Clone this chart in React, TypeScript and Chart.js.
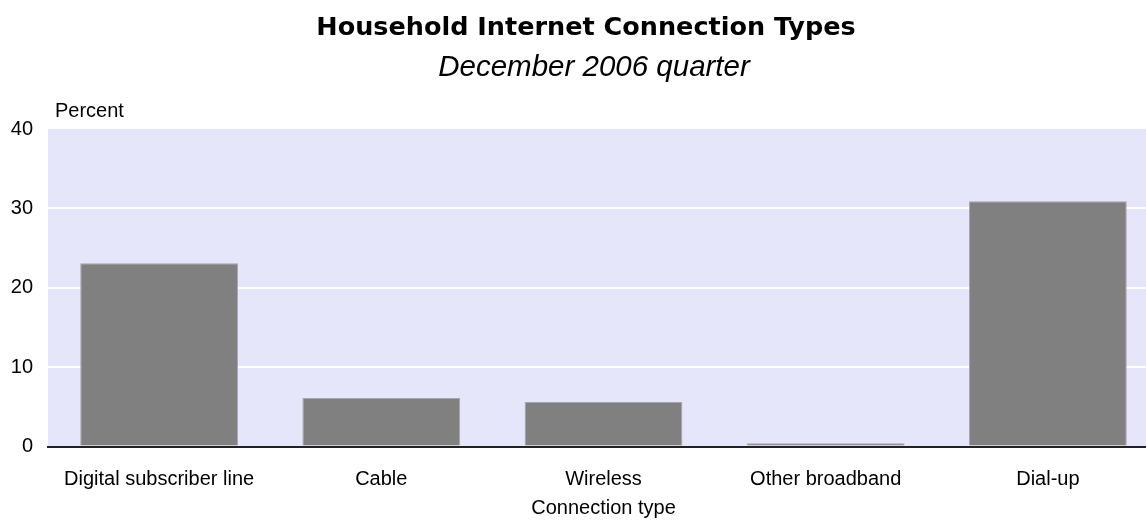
import React, { useEffect, useRef } from "react";
import { Chart, registerables } from "chart.js";

Chart.register(...registerables);

const categories = ["Digital subscriber line", "Cable", "Wireless", "Other broadband", "Dial-up"];
const percentValues = [23.1, 6.1, 5.6, 0.4, 30.9];
const yTickValues = [0, 10, 20, 30, 40];
const titleText = "Household Internet Connection Types";
const subtitleText = "December 2006 quarter";
const yAxisLabel = "Percent";
const xAxisLabel = "Connection type";

const SANS = "'Liberation Sans', Arial, sans-serif";

const plotDecor = {
  id: "plotDecor",
  beforeDraw(chart: any) {
    const { ctx, chartArea } = chart;
    ctx.save();
    ctx.fillStyle = "#E6E6FA";
    ctx.fillRect(chartArea.left, chartArea.top, chartArea.right - chartArea.left, chartArea.bottom - chartArea.top);
    ctx.restore();
  },
  afterDraw(chart: any) {
    const { ctx, chartArea } = chart;
    ctx.save();
    ctx.fillStyle = "#000";
    ctx.textBaseline = "middle";
    ctx.textAlign = "center";
    ctx.font = `bold 25.5px 'DejaVu Sans', Verdana, sans-serif`;
    ctx.fillText(titleText, 586, 28);
    ctx.font = `italic 29.5px ${SANS}`;
    ctx.fillText(subtitleText, 594, 68);
    ctx.font = `20px ${SANS}`;
    ctx.textAlign = "left";
    ctx.fillText(yAxisLabel, chartArea.left + 7, chartArea.top - 18);
    ctx.restore();
  },
};

export default function App() {
  const canvasRef = useRef<HTMLCanvasElement | null>(null);

  useEffect(() => {
    if (!canvasRef.current) return;
    const chart = new Chart(canvasRef.current, {
      type: "bar",
      data: {
        labels: categories,
        datasets: [
          {
            label: yAxisLabel,
            data: percentValues,
            backgroundColor: "#808080",
            borderColor: "#A4A4B4",
            borderWidth: 1,
            barPercentage: 0.71,
            categoryPercentage: 1,
          },
        ],
      },
      options: {
        animation: false,
        responsive: true,
        maintainAspectRatio: false,
        layout: { padding: { left: 0, right: 33, top: 129, bottom: 0 } },
        plugins: {
          legend: { display: false },
          tooltip: { enabled: false },
          title: { display: false },
          subtitle: { display: false },
        },
        scales: {
          x: {
            z: 1,
            afterFit: (scale: any) => {
              scale.height = 73.5;
            },
            grid: { display: false, drawTicks: false },
            border: { display: true, color: "#222", width: 2 },
            ticks: { color: "#000", font: { family: SANS, size: 20 }, padding: 21 },
            title: {
              display: true,
              text: xAxisLabel,
              color: "#000",
              font: { family: SANS, size: 20 },
              padding: { top: 6, bottom: 0 },
            },
          },
          y: {
            min: 0,
            max: 40,
            afterFit: (scale: any) => {
              scale.width = 48;
            },
            afterBuildTicks: (scale: any) => {
              scale.ticks = yTickValues.map((v) => ({ value: v }));
            },
            grid: {
              drawTicks: false,
              lineWidth: 2,
              color: (ctx: any) =>
                ctx.tick && ctx.tick.value > 0 && ctx.tick.value < 40 ? "#FFFFFF" : "rgba(0,0,0,0)",
            },
            border: { display: false },
            ticks: { color: "#000", font: { family: SANS, size: 20 }, padding: 15 },
          },
        },
      },
      plugins: [plotDecor],
    });
    return () => chart.destroy();
  }, []);

  return (
    <div
      style={{
        position: "absolute",
        left: 0,
        top: 0,
        width: 1146,
        height: 520,
        overflow: "hidden",
        background: "#fff",
      }}
    >
      <div style={{ position: "relative", width: 1192, height: 520 }}>
        <canvas ref={canvasRef} />
      </div>
    </div>
  );
}
